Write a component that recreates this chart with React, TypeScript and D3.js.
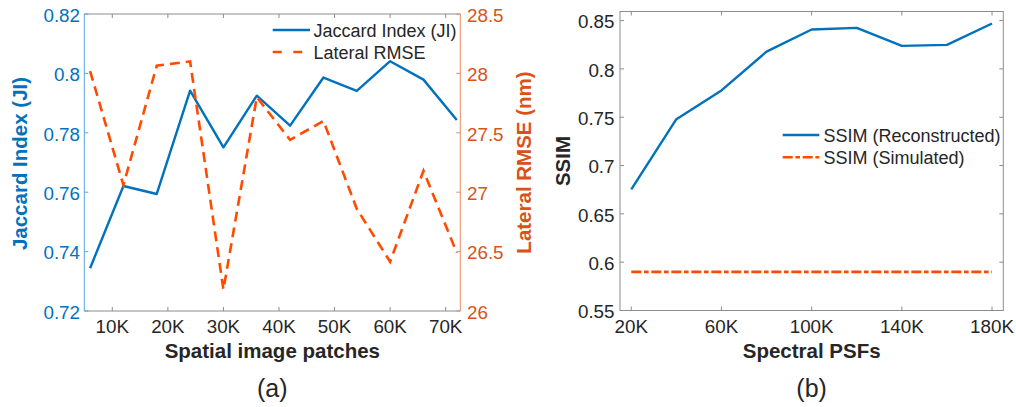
import React from "react";
import * as d3 from "d3";

// ---------- data ----------
const patchesK = [6, 12, 18, 24, 30, 36, 42, 48, 54, 60, 66, 72];
const jaccard = [0.7344, 0.7621, 0.7594, 0.7942, 0.7751, 0.7925, 0.7824, 0.7986, 0.7941, 0.8041, 0.7979, 0.7843];
const lateralRmse = [28.02, 27.06, 28.065, 28.1, 26.18, 27.8, 27.44, 27.6, 26.86, 26.415, 27.18, 26.49];

const psfsK = [20, 40, 60, 80, 100, 120, 140, 160, 180];
const ssimReconstructed = [0.6753, 0.748, 0.7777, 0.8179, 0.8408, 0.8425, 0.8238, 0.8249, 0.847];
const ssimSimulated = [0.59, 0.59, 0.59, 0.59, 0.59, 0.59, 0.59, 0.59, 0.59];

const aXTicks = [10, 20, 30, 40, 50, 60, 70];
const aYLeftTicks = [0.72, 0.74, 0.76, 0.78, 0.8, 0.82];
const aYRightTicks = [26, 26.5, 27, 27.5, 28, 28.5];
const bXTicks = [20, 60, 100, 140, 180];
const bYTicks = [0.55, 0.6, 0.65, 0.7, 0.75, 0.8, 0.85];

// ---------- styles ----------
const FONT = "'Liberation Sans', Arial, Helvetica, sans-serif";
const BLUE = "#0072BD";
const ORANGE_LINE = "#FF4A00";
const ORANGE_AXIS = "#D95319";
const DARK = "#262626";
const GRAY = "#8c8c8c";
const TICK_FS = 18.8;
const LEGEND_FS = 18;
const TITLE_FS = 20.5;
const TICK_LEN = 4;

const fmtNum = (v: number) => String(+v.toFixed(2));

export default function App() {
  // ---------- panel (a) ----------
  const aL = 84.3, aR = 460.3, aT = 14, aB = 311;
  const ax = d3.scaleLinear().domain([4.96, 72.63]).range([aL, aR]);
  const ayL = d3.scaleLinear().domain([0.72, 0.82]).range([aB, aT]);
  const ayR = d3.scaleLinear().domain([26, 28.5]).range([aB, aT]);

  const jiLine = d3.line<number>().x((_, i) => ax(patchesK[i])).y((d) => ayL(d));
  const rmseLine = d3.line<number>().x((_, i) => ax(patchesK[i])).y((d) => ayR(d));

  // ---------- panel (b) ----------
  const bL = 620, bR = 1003.3, bT = 11.5, bB = 310.5;
  const bx = d3.scaleLinear().domain([15, 185]).range([bL, bR]);
  const by = d3.scaleLinear().domain([0.55, 0.8594]).range([bB, bT]);

  const reconLine = d3.line<number>().x((_, i) => bx(psfsK[i])).y((d) => by(d));
  const simLine = d3.line<number>().x((_, i) => bx(psfsK[i])).y((d) => by(d));

  return (
    <svg
      width={1016}
      height={407}
      style={{ position: "absolute", left: 0, top: 0, background: "#fff" }}
      fontFamily={FONT}
    >
      {/* ===== Panel (a) ===== */}
      <line x1={aL} x2={aR} y1={aT} y2={aT} stroke={GRAY} strokeWidth={1} />
      <line x1={aL} x2={aR} y1={aB} y2={aB} stroke={GRAY} strokeWidth={1} />
      <line x1={aL} x2={aL} y1={aT} y2={aB} stroke="#5aa5dc" strokeWidth={1} />
      <line x1={aR} x2={aR} y1={aT} y2={aB} stroke="#ea8a64" strokeWidth={1} />
      {aXTicks.map((t) => (
        <g key={"ax" + t}>
          <line x1={ax(t)} x2={ax(t)} y1={aB} y2={aB - TICK_LEN} stroke={GRAY} />
          <line x1={ax(t)} x2={ax(t)} y1={aT} y2={aT + TICK_LEN} stroke={GRAY} />
          <text x={ax(t)} y={332.5} textAnchor="middle" fontSize={TICK_FS} fill={DARK}>
            {t + "K"}
          </text>
        </g>
      ))}
      {aYLeftTicks.map((t) => (
        <g key={"ayl" + t}>
          <line x1={aL} x2={aL + TICK_LEN} y1={ayL(t)} y2={ayL(t)} stroke="#5aa5dc" />
          <text x={80} y={ayL(t) + 7.8} textAnchor="end" fontSize={TICK_FS} fill={BLUE}>
            {fmtNum(t)}
          </text>
        </g>
      ))}
      {aYRightTicks.map((t) => (
        <g key={"ayr" + t}>
          <line x1={aR} x2={aR - TICK_LEN} y1={ayR(t)} y2={ayR(t)} stroke="#ea8a64" />
          <text x={467} y={ayR(t) + 7.8} textAnchor="start" fontSize={TICK_FS} fill={ORANGE_AXIS}>
            {fmtNum(t)}
          </text>
        </g>
      ))}
      <path d={jiLine(jaccard) || ""} fill="none" stroke={BLUE} strokeWidth={2.4} strokeLinejoin="round" />
      <path
        d={rmseLine(lateralRmse) || ""}
        fill="none"
        stroke={ORANGE_LINE}
        strokeWidth={2.6}
        strokeDasharray="10,6"
      />
      {/* legend (a) */}
      <line x1={272.7} x2={310} y1={30} y2={30} stroke={BLUE} strokeWidth={2.4} />
      <text x={313.5} y={36.5} fontSize={LEGEND_FS} fill={DARK}>Jaccard Index (JI)</text>
      <line x1={272.7} x2={310} y1={52} y2={52} stroke={ORANGE_LINE} strokeWidth={2.6} strokeDasharray="9,11.6" />
      <text x={313.5} y={58.5} fontSize={LEGEND_FS} fill={DARK}>Lateral RMSE</text>
      {/* axis titles */}
      <text
        transform={`translate(26.5,${(aT + aB) / 2 + 1}) rotate(-90)`}
        textAnchor="middle"
        fontSize={TITLE_FS}
        fontWeight="bold"
        fill={BLUE}
      >
        Jaccard Index (JI)
      </text>
      <text
        transform={`translate(531,${(aT + aB) / 2}) rotate(-90)`}
        textAnchor="middle"
        fontSize={TITLE_FS}
        fontWeight="bold"
        fill={ORANGE_AXIS}
      >
        Lateral RMSE (nm)
      </text>
      <text x={(aL + aR) / 2} y={358} textAnchor="middle" fontSize={TITLE_FS} fontWeight="bold" fill={DARK}>
        Spatial image patches
      </text>
      <text x={(aL + aR) / 2} y={397} textAnchor="middle" fontSize={25} fill={DARK}>(a)</text>

      {/* ===== Panel (b) ===== */}
      <rect x={bL} y={bT} width={bR - bL} height={bB - bT} fill="none" stroke={GRAY} strokeWidth={1} />
      {bXTicks.map((t) => (
        <g key={"bx" + t}>
          <line x1={bx(t)} x2={bx(t)} y1={bB} y2={bB - TICK_LEN} stroke={GRAY} />
          <line x1={bx(t)} x2={bx(t)} y1={bT} y2={bT + TICK_LEN} stroke={GRAY} />
          <text x={bx(t)} y={332.5} textAnchor="middle" fontSize={TICK_FS} fill={DARK}>
            {t + "K"}
          </text>
        </g>
      ))}
      {bYTicks.map((t) => (
        <g key={"by" + t}>
          <line x1={bL} x2={bL + TICK_LEN} y1={by(t)} y2={by(t)} stroke={GRAY} />
          <line x1={bR} x2={bR - TICK_LEN} y1={by(t)} y2={by(t)} stroke={GRAY} />
          <text x={614.5} y={by(t) + 7.8} textAnchor="end" fontSize={TICK_FS} fill={DARK}>
            {fmtNum(t)}
          </text>
        </g>
      ))}
      <path d={reconLine(ssimReconstructed) || ""} fill="none" stroke={BLUE} strokeWidth={2.4} strokeLinejoin="round" />
      <path
        d={simLine(ssimSimulated) || ""}
        fill="none"
        stroke={ORANGE_LINE}
        strokeWidth={2.6}
        strokeDasharray="10,2.7,4.6,2.7"
      />
      {/* legend (b) */}
      <line x1={782.7} x2={819.3} y1={135} y2={135} stroke={BLUE} strokeWidth={2.4} />
      <text x={823.5} y={141.5} fontSize={LEGEND_FS} fill={DARK}>SSIM (Reconstructed)</text>
      <line x1={782.7} x2={819.3} y1={157.3} y2={157.3} stroke={ORANGE_LINE} strokeWidth={2.6} strokeDasharray="10,2.7,4.6,2.7" />
      <text x={823.5} y={163.8} fontSize={LEGEND_FS} fill={DARK}>SSIM (Simulated)</text>
      <text
        transform={`translate(570,${(bT + bB) / 2}) rotate(-90)`}
        textAnchor="middle"
        fontSize={TITLE_FS}
        fontWeight="bold"
        fill={DARK}
      >
        SSIM
      </text>
      <text x={(bL + bR) / 2} y={358} textAnchor="middle" fontSize={TITLE_FS} fontWeight="bold" fill={DARK}>
        Spectral PSFs
      </text>
      <text x={(bL + bR) / 2} y={397} textAnchor="middle" fontSize={25} fill={DARK}>(b)</text>
    </svg>
  );
}
